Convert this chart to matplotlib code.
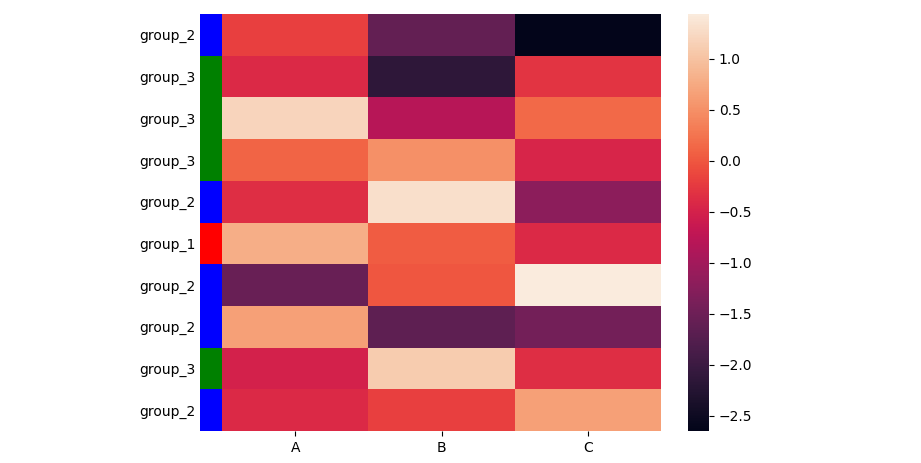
import matplotlib
matplotlib.use("Agg")
import matplotlib.pyplot as plt
import seaborn as sns
import numpy as np
import pandas as pd
from matplotlib.colors import ListedColormap

columns = ["A", "B", "C"]
row_labels = ["group_2", "group_3", "group_3", "group_3", "group_2",
              "group_1", "group_2", "group_2", "group_3", "group_2"]
col_A = [-0.20, -0.40, 1.20, 0.10, -0.35, 0.80, -1.55, 0.65, -0.50, -0.40]
col_B = [-1.60, -2.15, -0.80, 0.50, 1.30, 0.05, 0.00, -1.65, 1.10, -0.20]
col_C = [-2.65, -0.30, 0.15, -0.45, -1.20, -0.40, 1.44, -1.45, -0.35, 0.65]
group_colors = {"group_1": "red", "group_2": "blue", "group_3": "green"}

df = pd.DataFrame({"A": col_A, "B": col_B, "C": col_C}, index=row_labels)

fig = plt.figure(figsize=(9.21, 4.63), dpi=100)
H = 463.0
W = 921.0
bottom = (H - 431) / H
height = (431 - 14) / H
ax_strip = fig.add_axes([200 / W, bottom, 22 / W, height])
ax = fig.add_axes([222 / W, bottom, 439 / W, height])
cax = fig.add_axes([688 / W, bottom, 21 / W, height])

sns.heatmap(df, ax=ax, cbar_ax=cax, cmap="rocket", yticklabels=False)
ax.set_ylabel("")

# row colour strip
uniq = ["group_1", "group_2", "group_3"]
strip_cmap = ListedColormap([group_colors[g] for g in uniq])
codes = np.array([[uniq.index(g)] for g in row_labels])
ax_strip.pcolormesh(codes, cmap=strip_cmap, vmin=-0.5, vmax=2.5)
ax_strip.set_xlim(0, 1)
ax_strip.set_ylim(len(row_labels), 0)
ax_strip.set_xticks([])
ax_strip.set_yticks(np.arange(len(row_labels)) + 0.5)
ax_strip.set_yticklabels(row_labels)
ax_strip.tick_params(axis="y", length=0)
for s in ax_strip.spines.values():
    s.set_visible(False)

fig.savefig("out.png", dpi=100)
